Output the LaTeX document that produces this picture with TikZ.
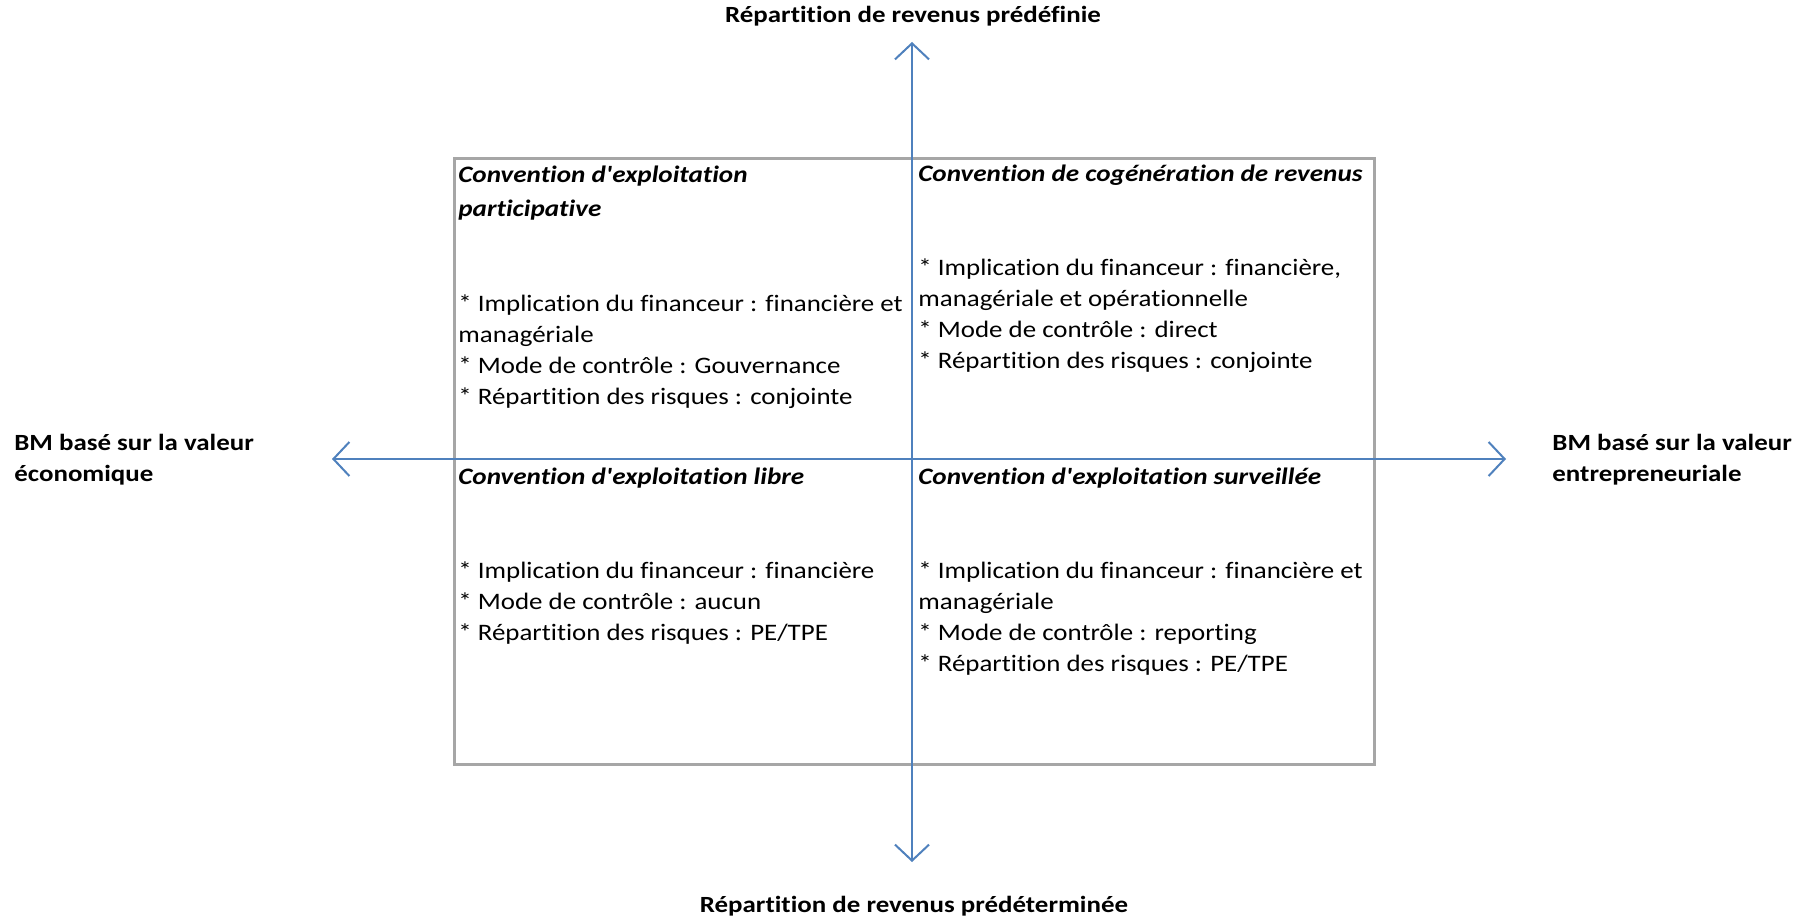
\documentclass[tikz,border=0pt]{standalone}
\usepackage{fontspec}
\setmainfont{Carlito}
\newfontfamily\bodyfont[FakeStretch=1.14,Ligatures={TeXOff,NoCommon}]{Carlito}
\newfontfamily\titlefont[FakeStretch=1.15,Ligatures={TeXOff,NoCommon}]{Carlito}
\newfontfamily\labelfont[FakeStretch=1.16,Ligatures={TeXOff,NoCommon}]{Carlito}
\usetikzlibrary{arrows.meta}
\definecolor{axisblue}{RGB}{79,129,189}
\definecolor{boxgray}{RGB}{166,166,166}
\begin{document}
\begin{tikzpicture}[x=0.5pt,y=-0.5pt,
  axis/.style={draw=axisblue,line width=1pt,{Straight Barb[length=8pt,width=17pt]}-{Straight Barb[length=8pt,width=17pt]}},
  frame/.style={draw=boxgray,line width=1.3pt},
  lbl/.style={font=\labelfont\fontsize{11.6}{15.5}\selectfont\bfseries,inner sep=0pt,align=left},
  qtitle/.style={font=\titlefont\fontsize{11.8}{17}\selectfont\bfseries\itshape,inner sep=0pt,anchor=north west,align=left},
  qbody/.style={font=\bodyfont\fontsize{11.8}{15.5}\selectfont,inner sep=0pt,anchor=north west,align=left}]
\useasboundingbox (0,0) rectangle (1809,919);
\fill[white] (0,0) rectangle (1809,919);
% frame
\node[frame,minimum width=460pt,minimum height=303pt,inner sep=0pt,anchor=north west] (box) at (453,157) {};
% axes
\coordinate (N) at (912,42);
\coordinate (S) at (912,862);
\coordinate (W) at (332,459);
\coordinate (E) at (1506,459);
\draw[axis] (S) -- (N);
\draw[axis] (W) -- (E);
% axis labels
\node[lbl] (ltop) at (913,16) {Répartition de revenus prédéfinie};
\node[lbl] (lbot) at (914,906) {Répartition de revenus prédéterminée};
\node[lbl,anchor=west] (lleft) at (14,460) {BM basé sur la valeur\\économique};
\node[lbl,anchor=west] (lright) at (1552,460) {BM basé sur la valeur\\entrepreneuriale};
% top-left
\node[qtitle] (tlt) at (458,158) {\strut Convention d'exploitation\\participative};
\node[qbody] (tlb) at (458,289) {\strut * Implication du financeur : financière et\\managériale\\* Mode de contrôle : Gouvernance\\* Répartition des risques : conjointe};
% top-right
\node[qtitle] (trt) at (918,157) {\strut Convention de cogénération de revenus};
\node[qbody] (trb) at (918,253) {\strut * Implication du financeur : financière,\\managériale et opérationnelle\\* Mode de contrôle : direct\\* Répartition des risques : conjointe};
% bottom-left
\node[qtitle] (blt) at (458,460) {\strut Convention d'exploitation libre};
\node[qbody] (blb) at (458,556) {\strut * Implication du financeur : financière\\* Mode de contrôle : aucun\\* Répartition des risques : PE/TPE};
% bottom-right
\node[qtitle] (brt) at (918,460) {\strut Convention d'exploitation surveillée};
\node[qbody] (brb) at (918,556) {\strut * Implication du financeur : financière et\\managériale\\* Mode de contrôle : reporting\\* Répartition des risques : PE/TPE};
\end{tikzpicture}
\end{document}
